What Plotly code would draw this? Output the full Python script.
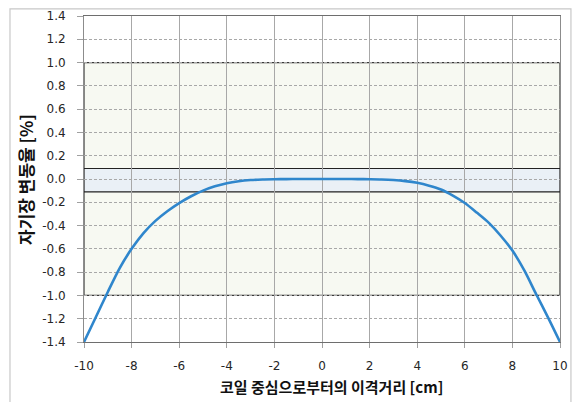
import plotly.graph_objects as go

# Data
x_cm = [-10, -9.5, -9, -8.5, -8, -7.5, -7, -6.5, -6, -5.5, -5, -4.5, -4, -3.5, -3, -2.5, -2, -1.5, -1, -0.5,
        0, 0.5, 1, 1.5, 2, 2.5, 3, 3.5, 4, 4.5, 5, 5.5, 6, 6.5, 7, 7.5, 8, 8.5, 9, 9.5, 10]
variation = [-1.40, -1.185, -0.97, -0.765, -0.60, -0.465, -0.36, -0.277, -0.207, -0.148, -0.10, -0.063, -0.036,
             -0.019, -0.009, -0.004, -0.002, -0.001, 0.0, 0.0,
             0.0, 0.0, 0.0, -0.001, -0.002, -0.004, -0.009, -0.018, -0.033, -0.057, -0.09, -0.142, -0.206,
             -0.288, -0.375, -0.485, -0.615, -0.785, -0.99, -1.19, -1.40]

outer_band = [-1.0, 1.0]
inner_band = [-0.11, 0.09]
x_ticks = list(range(-10, 11, 2))
y_ticks = [round(-1.4 + 0.2 * i, 1) for i in range(15)]

x_title = "코일 중심으로부터의 이격거리 [cm]"
y_title = "자기장 변동율 [%]"

fig = go.Figure()
fig.add_trace(go.Scatter(x=x_cm, y=variation, mode="lines",
                         line=dict(color="#2f86cc", width=2.6, shape="spline", smoothing=0.8),
                         showlegend=False, hoverinfo="skip"))

# bands
fig.add_shape(type="rect", xref="x", yref="y", x0=-10, x1=10, y0=outer_band[0], y1=outer_band[1],
              fillcolor="#f7f9f2", line=dict(color="#3a3a3a", width=1.2), layer="below")
fig.add_shape(type="rect", xref="x", yref="y", x0=-10, x1=10, y0=inner_band[0], y1=inner_band[1],
              fillcolor="#eaf0f6", line=dict(color="#222222", width=1.2), layer="below")
# outer chart frame
fig.add_shape(type="rect", xref="paper", yref="paper", x0=-0.1555, x1=1.023, y0=-0.3, y1=1.022,
              line=dict(color="#c8c8c8", width=1.2), fillcolor="rgba(0,0,0,0)")

# axis titles
fig.add_annotation(xref="paper", yref="paper", x=0.521, y=-0.136, text="<b>" + x_title + "</b>",
                   showarrow=False, font=dict(family="Noto Sans CJK KR", size=15, color="#111"),
                   xanchor="center", yanchor="middle")
fig.add_annotation(xref="paper", yref="paper", x=-0.124, y=0.5, text="<b>" + y_title + "</b>",
                   showarrow=False, textangle=-90, font=dict(family="Noto Sans CJK KR", size=17, color="#111"),
                   xanchor="center", yanchor="middle")

tickfont = dict(family="DejaVu Sans", size=12, color="#262626")
fig.update_layout(
    width=573, height=394,
    margin=dict(l=76, r=21, t=8, b=60),
    paper_bgcolor="white", plot_bgcolor="white",
    xaxis=dict(range=[-10, 10], tickvals=x_ticks, ticktext=[str(v) for v in x_ticks], tickfont=tickfont,
               showgrid=True, gridcolor="#a8a8a8", gridwidth=1, zeroline=False,
               showline=True, linecolor="#6e6e6e", linewidth=1, mirror=True,
               ticks="outside", ticklen=5, tickcolor="#a0a0a0", ticklabelstandoff=8,
               automargin=False, layer="below traces"),
    yaxis=dict(range=[-1.4, 1.4], tickvals=y_ticks, ticktext=[f"{v:.1f}" for v in y_ticks], tickfont=tickfont,
               showgrid=True, gridcolor="#a8a8a8", gridwidth=1, griddash="3px,2px", zeroline=False,
               showline=True, linecolor="#8c8c8c", linewidth=1, mirror=True,
               ticks="outside", ticklen=6, tickcolor="#a0a0a0", ticklabelstandoff=9,
               automargin=False, layer="below traces"),
)

fig.write_html("out.html")
